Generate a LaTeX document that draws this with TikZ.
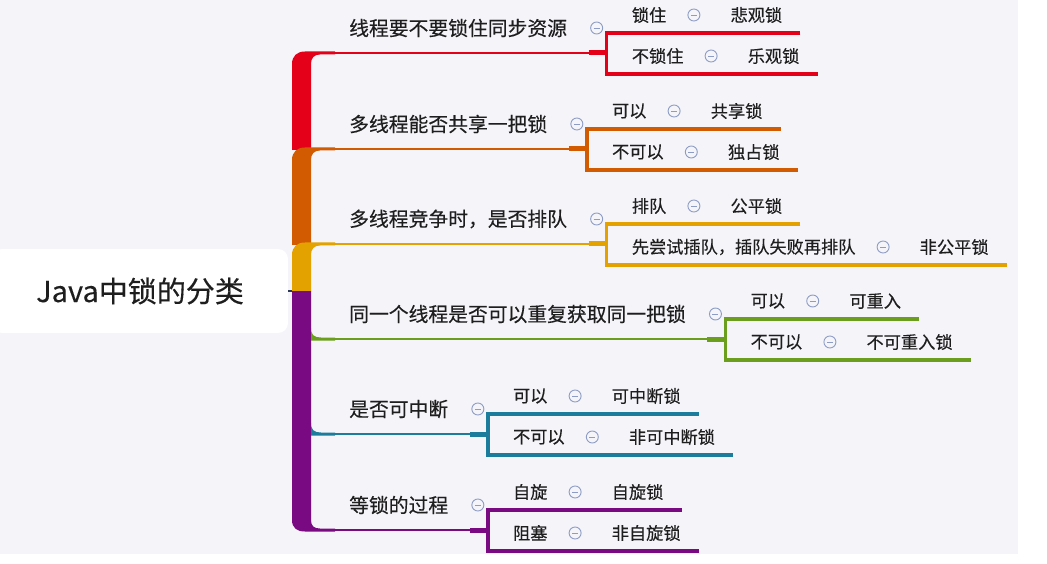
\documentclass[tikz,border=0pt]{standalone}
\usepackage{fontspec}
\setmainfont{Noto Sans CJK SC}[FakeBold=0.3]
\usetikzlibrary{calc, positioning}
\definecolor{bg}{HTML}{F4F4F9}
\definecolor{ink}{HTML}{1E1E1E}
\definecolor{knobc}{HTML}{8C9CC4}
\definecolor{stem}{HTML}{2B3A55}
\definecolor{c1}{HTML}{E5001A}
\definecolor{c2}{HTML}{D25A00}
\definecolor{c3}{HTML}{E3A200}
\definecolor{c4}{HTML}{6A9E1C}
\definecolor{c5}{HTML}{1B7C9C}
\definecolor{c6}{HTML}{7A0A82}
\tikzstyle{root}=[fill=white, rounded corners=10pt, minimum width=296pt, minimum height=84pt, inner sep=0pt, font=\fontsize{29}{31}\selectfont, text=ink]
\tikzstyle{btext}=[inner sep=0pt, anchor=west, font=\fontsize{19.8}{21}\selectfont, text=ink]
\tikzstyle{ltext}=[inner sep=0pt, font=\fontsize{17.2}{19}\selectfont, text=ink]
\tikzstyle{knob}=[circle, draw=knobc, line width=0.9pt, fill=bg, inner sep=0pt, minimum size=12pt, path picture={\draw[knobc, line width=0.9pt] ([xshift=-3pt]path picture bounding box.center) -- ([xshift=3pt]path picture bounding box.center);}]

\begin{document}
\begin{tikzpicture}[x=1pt, y=-1pt]
\useasboundingbox (0,0) rectangle (1047,564);
\fill[white] (0,0) rectangle (1047,564);
\fill[bg] (0,0) rectangle (1018,554);
\node[root] (root) at (140,291) {Java中锁的分类};
\draw[stem, line width=2pt] (root.east) -- (300,291);
% trunk
\fill[c1] (292,150) -- (292,64) .. controls (292,56) and (297,51.5) .. (305,51.5) -- (335,51.5) -- (335,54.5) -- (320,54.5) .. controls (314,54.5) and (311,58) .. (311,64) -- (311,150) -- cycle;
\fill[c2] (292,245) -- (292,160) .. controls (292,152) and (297,147.5) .. (305,147.5) -- (335,147.5) -- (335,150.5) -- (320,150.5) .. controls (314,150.5) and (311,154) .. (311,160) -- (311,245) -- cycle;
\fill[c3] (292,291) -- (292,255) .. controls (292,247) and (297,242.5) .. (305,242.5) -- (335,242.5) -- (335,245.5) -- (320,245.5) .. controls (314,245.5) and (311,249) .. (311,255) -- (311,291) -- cycle;
\fill[c6] (292,291) -- (292,520) .. controls (292,528) and (297,531.5) .. (305,531.5) -- (335,531.5) -- (335,528.5) -- (320,528.5) .. controls (314,528.5) and (311,526) .. (311,520) -- (311,291) -- cycle;
\fill[c4] (311,328) .. controls (311,335) and (314,337.5) .. (321,337.5) -- (335,337.5) -- (335,340.5) -- (311,340.5) -- cycle;
\fill[c5] (311,423) .. controls (311,430) and (314,432.5) .. (321,432.5) -- (335,432.5) -- (335,435.5) -- (311,435.5) -- cycle;
\foreach \n/\y/\col/\br/\la/\ra/\lb/\rb in {
1/53/c1/线程要不要锁住同步资源/锁住/悲观锁/不锁住/乐观锁,
2/149/c2/多线程能否共享一把锁/可以/共享锁/不可以/独占锁,
3/244/c3/多线程竞争时，是否排队/排队/公平锁/先尝试插队，插队失败再排队/非公平锁,
4/339/c4/同一个线程是否可以重复获取同一把锁/可以/可重入/不可以/不可重入锁,
5/434/c5/是否可中断/可以/可中断锁/不可以/非可中断锁,
6/530/c6/等锁的过程/自旋/自旋锁/阻塞/非自旋锁}{
\node[btext] (b\n) at (349,\y-25) {\br};
\node[knob, right=23pt of b\n] (i\n) {};
\path (i\n.center) ++(10,0) coordinate (k\n) ++(0,5) coordinate (ta\n) ++(0,41) coordinate (tb\n);
\path (k\n) ++(-18,25) coordinate (s\n) ++(18,0) coordinate (j\n);
\node[ltext, anchor=west] (la\n) at ([shift={(25,-13)}]k\n) {\la};
\node[knob, right=21pt of la\n] (ia\n) {};
\node[ltext, right=30pt of ia\n] (ra\n) {\ra};
\node[ltext, anchor=west] (lb\n) at ([shift={(25,28)}]k\n) {\lb};
\node[knob, right=21pt of lb\n] (ib\n) {};
\node[ltext, right=30pt of ib\n] (rb\n) {\rb};
\path (ra\n.east |- ta\n) ++(18,0) coordinate (ea\n);
\path (rb\n.east |- tb\n) ++(18,0) coordinate (eb\n);
\draw[\col, line width=2.5pt] (311,\y) -- (s\n);
\draw[\col, line width=5pt] (s\n) -- (j\n);
\draw[\col, line width=3.5pt] (ea\n) -- (ta\n) -- (tb\n) -- (eb\n);
}
\end{tikzpicture}
\end{document}
